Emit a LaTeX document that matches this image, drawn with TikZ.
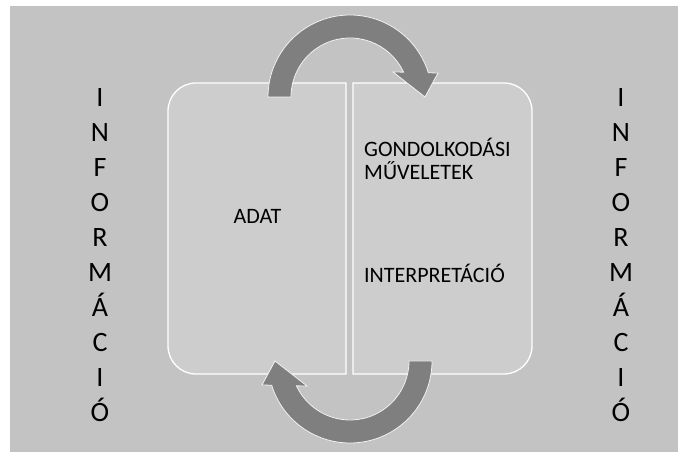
\documentclass[tikz,border=0pt]{standalone}
\usepackage{fontspec}
\setmainfont{Carlito}
\definecolor{bggray}{HTML}{C3C3C3}
\definecolor{boxgray}{HTML}{CDCDCD}
\definecolor{arrowgray}{HTML}{7F7F7F}
\tikzset{
  panel/.style={fill=boxgray, draw=white, line width=1.3pt},
  cyclearrow/.style={fill=arrowgray, draw=white!90!gray, line width=0.8pt},
  cycarrow/.pic={
    \path[cyclearrow] (180:82) arc[start angle=180,end angle=17.2,radius=82]
      -- (88,24) -- (75,0) -- (43,25) -- (24.9:59)
      arc[start angle=24.9,end angle=180,radius=59] -- cycle;
  },
  letter/.style={font=\fontsize{28}{34}\selectfont, anchor=base, inner sep=0pt},
  midtext/.style={font=\fontsize{22}{23}\selectfont, anchor=base west, inner sep=0pt, align=left}
}
\begin{document}
\begin{tikzpicture}[x=1pt,y=1pt]
\useasboundingbox (0,0) rectangle (678,452);
\fill[white] (0,0) rectangle (678,452);
\fill[bggray] (10,0) rectangle (678,446);
% panels
\path[panel] (346,369) -- (196,369) arc[start angle=90,end angle=180,radius=28]
  -- (168,106) arc[start angle=180,end angle=270,radius=28] -- (346,78) -- cycle;
\path[panel] (353,369) -- (504,369) arc[start angle=90,end angle=0,radius=28]
  -- (532,106) arc[start angle=0,end angle=-90,radius=28] -- (353,78) -- cycle;
% arrows
\pic at (350,355) {cycarrow};
\pic[rotate=180] at (350,91) {cycarrow};
% side columns
\foreach \l [count=\i from 0] in {I,N,F,O,R,M,Á,C,I,Ó}{
  \node[letter] (L\i) at (100,345-35*\i) {\l};
  \node[letter] (R\i) at (621,345-35*\i) {\l};
}
% middle texts
\node[font=\fontsize{22}{23}\selectfont, anchor=base, inner sep=0pt] (adat) at (257.5,228) {ADAT};
\node[midtext] (gond) at (364,272) {GONDOLKODÁSI\\MŰVELETEK};
\node[midtext] (interp) at (364,169) {INTERPRETÁCIÓ};
\end{tikzpicture}
\end{document}
